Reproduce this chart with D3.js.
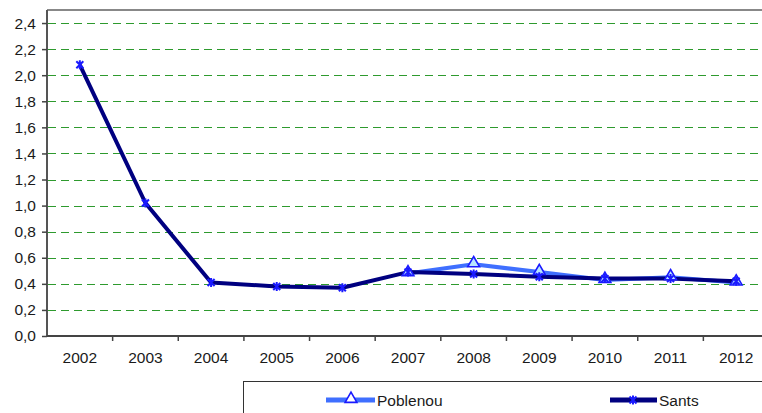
<!DOCTYPE html>
<html><head><meta charset="utf-8">
<script src="https://cdn.jsdelivr.net/npm/d3@7"></script>
<style>body{margin:0;background:#fff}svg{display:block;font-family:"Liberation Sans",Arial,sans-serif}svg text{font-family:"Liberation Sans",Arial,sans-serif;font-size:15.5px;fill:#1a1a1a}</style>
</head><body>
<script>
const years = ["2002","2003","2004","2005","2006","2007","2008","2009","2010","2011","2012"];
const poblenou = [null,null,null,null,null,0.48,0.55,0.49,0.43,0.45,0.41];
const sants = [2.08,1.02,0.41,0.38,0.37,0.49,0.475,0.455,0.44,0.44,0.42];
const yTicks = [0,0.2,0.4,0.6,0.8,1.0,1.2,1.4,1.6,1.8,2.0,2.2,2.4];

const W=762,H=413;
const svg=d3.select("body").append("svg").attr("width",W).attr("height",H);
const x=d3.scaleBand().domain(years).range([47,769]);
const y=d3.scaleLinear().domain([0,2.5]).range([336,10]);

// gridlines
svg.append("g").selectAll("line").data(yTicks.filter(d=>d>0)).join("line")
  .attr("x1",48).attr("x2",W).attr("y1",d=>Math.round(y(d))+0.5).attr("y2",d=>Math.round(y(d))+0.5)
  .attr("stroke","#2e9a2e").attr("stroke-width",1.2).attr("stroke-dasharray","8,5");

// top border
svg.append("line").attr("x1",47).attr("x2",W).attr("y1",10).attr("y2",10).attr("stroke","#888").attr("stroke-width",2);

// y axis
const yAxis=d3.axisLeft(y).tickValues(yTicks).tickSize(5).tickPadding(6)
  .tickFormat(d=>d3.format(".1f")(d).replace(".",","));
const gy=svg.append("g").attr("transform","translate(47,0)").call(yAxis);
gy.select(".domain").attr("stroke","#555").attr("stroke-width",2).attr("d","M0,10V336");
gy.selectAll(".tick line").attr("stroke","#444").attr("stroke-width",1.5);

// x axis
const xAxis=d3.axisBottom(x).tickSize(0).tickPadding(16);
const gx=svg.append("g").attr("transform","translate(0,336)").call(xAxis);
gx.select(".domain").attr("stroke","#444").attr("stroke-width",2).attr("d","M47,0H"+W);
// category separator ticks
svg.append("g").selectAll("line").data(years.slice(1)).join("line")
  .attr("x1",d=>x(d)).attr("x2",d=>x(d)).attr("y1",336).attr("y2",341)
  .attr("stroke","#444").attr("stroke-width",1.5);

const cx=d=>x(d)+x.bandwidth()/2;
const line=d3.line().defined(d=>d.v!=null).x(d=>cx(d.year)).y(d=>y(d.v));
const pData=years.map((yr,i)=>({year:yr,v:poblenou[i]}));
const sData=years.map((yr,i)=>({year:yr,v:sants[i]}));

svg.append("path").datum(pData).attr("d",line).attr("fill","none").attr("stroke","#3f6fff").attr("stroke-width",4).attr("stroke-linejoin","round");
svg.append("path").datum(sData).attr("d",line).attr("fill","none").attr("stroke","#000080").attr("stroke-width",4).attr("stroke-linejoin","round");

const tri=d3.symbol().type(d3.symbolTriangle).size(60);
function starPath(s){return `M${-s},${-s}L${s},${s}M${-s},${s}L${s},${-s}M0,${-s-1}L0,${s+1}`;}

svg.append("g").selectAll("path").data(pData.filter(d=>d.v!=null)).join("path")
  .attr("d",tri).attr("transform",d=>`translate(${cx(d.year)},${y(d.v)-1})`)
  .attr("fill","#b8e4ff").attr("stroke","#1a1aff").attr("stroke-width",1.6);
svg.append("g").selectAll("path").data(sData).join("path")
  .attr("d",starPath(3.5)).attr("transform",d=>`translate(${cx(d.year)},${y(d.v)})`)
  .attr("fill","none").attr("stroke","#1a1aff").attr("stroke-width",2);

// legend
svg.append("rect").attr("x",243.5).attr("y",381.5).attr("width",W).attr("height",60).attr("fill","#fff").attr("stroke","#333").attr("stroke-width",1);
const lg=svg.append("g");
lg.append("line").attr("x1",326).attr("x2",375).attr("y1",400).attr("y2",400).attr("stroke","#3f6fff").attr("stroke-width",5);
lg.append("path").attr("d",tri).attr("transform","translate(351,399)").attr("fill","#fff").attr("stroke","#1a1aff").attr("stroke-width",1.6);
lg.append("text").attr("x",377).attr("y",405.5).text("Poblenou");
lg.append("line").attr("x1",610).attr("x2",657).attr("y1",400).attr("y2",400).attr("stroke","#000080").attr("stroke-width",5);
lg.append("path").attr("d",starPath(3.5)).attr("transform","translate(633,400)").attr("fill","none").attr("stroke","#1a1aff").attr("stroke-width",2);
lg.append("text").attr("x",659).attr("y",405.5).text("Sants");
</script>
</body></html>
